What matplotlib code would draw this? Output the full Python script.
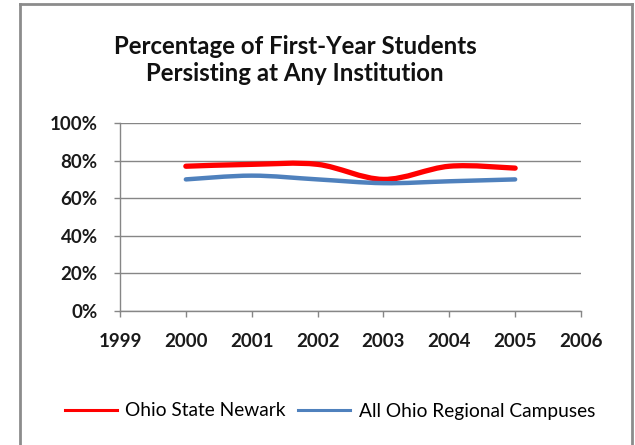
import matplotlib
matplotlib.use("Agg")
import matplotlib.pyplot as plt
from matplotlib.path import Path
from matplotlib.patches import PathPatch
from matplotlib.lines import Line2D

years = [2000, 2001, 2002, 2003, 2004, 2005]
newark = [77, 78, 78, 70, 77, 76]
regional = [70, 72, 70, 68, 69, 70]
series_names = ["Ohio State Newark", "All Ohio Regional Campuses"]
series_colors = ["#FF0000", "#4F81BD"]
title = "Percentage of First-Year Students\nPersisting at Any Institution"
xticks = list(range(1999, 2007))
yticks = [0, 20, 40, 60, 80, 100]

FONT = "Lato"

def smooth_path(xs, ys):
    pts = list(zip(xs, ys))
    n = len(pts)
    verts = [pts[0]]
    codes = [Path.MOVETO]
    for i in range(n - 1):
        p0 = pts[i - 1] if i > 0 else pts[i]
        p1 = pts[i]
        p2 = pts[i + 1]
        p3 = pts[i + 2] if i + 2 < n else pts[i + 1]
        c1 = (p1[0] + (p2[0] - p0[0]) / 6, p1[1] + (p2[1] - p0[1]) / 6)
        c2 = (p2[0] - (p3[0] - p1[0]) / 6, p2[1] - (p3[1] - p1[1]) / 6)
        verts += [c1, c2, p2]
        codes += [Path.CURVE4] * 3
    return Path(verts, codes)

fig = plt.figure(figsize=(6.35, 4.45), dpi=100)
ax = fig.add_axes([120/635, 1 - 311/445, (581-120)/635, (311-123)/445])

for vals, color, lw in [(newark, series_colors[0], 3.8), (regional, series_colors[1], 3.2)]:
    patch = PathPatch(smooth_path(years, vals), facecolor="none", edgecolor=color,
                      lw=lw, capstyle="round", joinstyle="round", zorder=3)
    ax.add_patch(patch)

ax.set_xlim(1999, 2006)
ax.set_ylim(0, 100)
ax.set_xticks(xticks)
ax.set_yticks(yticks)
ax.set_yticklabels([f"{v}%" for v in yticks])
ax.grid(axis="y", color="#868686", lw=1.0)
ax.set_axisbelow(True)
for s in ["top", "right"]:
    ax.spines[s].set_visible(False)
for s in ["left", "bottom"]:
    ax.spines[s].set_color("#868686")
    ax.spines[s].set_linewidth(1.0)
ax.tick_params(axis="both", direction="out", length=4, color="#868686", width=1.0)
ax.tick_params(axis="y", pad=12)
ax.tick_params(axis="x", pad=12)
for lab in ax.get_xticklabels() + ax.get_yticklabels():
    lab.set_fontfamily(FONT)
    lab.set_fontweight("bold")
    lab.set_fontsize(13.5)
    lab.set_color("#1a1a1a")

fig.text(295/635, 1 - 60/445, title, ha="center", va="center", fontsize=17.3,
         fontweight="bold", family=FONT, linespacing=1.25, color="#111111")

handles = [Line2D([], [], color=c, lw=2.2) for c in series_colors]
leg = fig.legend(handles, series_names, loc="center", bbox_to_anchor=(330/635, 1 - 411/445),
                 ncol=2, frameon=False, handlelength=2.7, handletextpad=0.45, columnspacing=0.65,
                 prop={"family": FONT, "size": 13.8})

# chart border
bc = "#8c8c8c"
fig.add_artist(Line2D([20/635, 20/635], [0, 1 - 4/445], color=bc, lw=2, transform=fig.transFigure))
fig.add_artist(Line2D([20/635, 632/635], [1 - 4/445, 1 - 4/445], color=bc, lw=2, transform=fig.transFigure))
fig.add_artist(Line2D([632/635, 632/635], [0, 1 - 4/445], color=bc, lw=2, transform=fig.transFigure))

fig.savefig("out.png", dpi=100)
